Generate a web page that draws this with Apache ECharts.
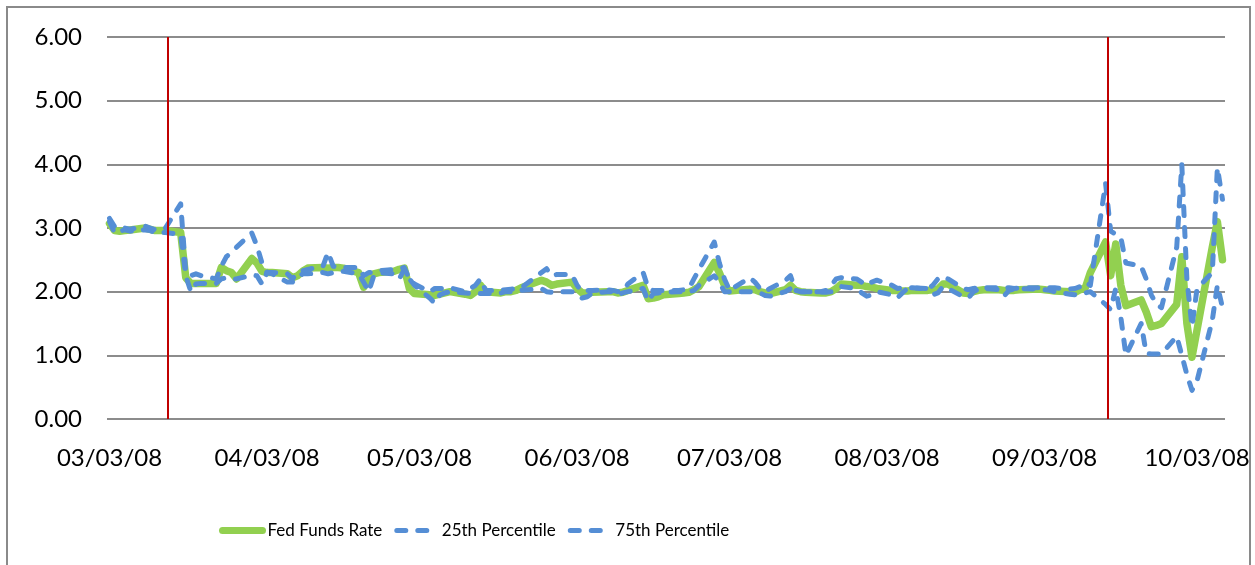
<!DOCTYPE html>
<html>
<head>
<meta charset="utf-8">
<script src="https://cdn.jsdelivr.net/npm/echarts@6/dist/echarts.min.js"></script>
<style>
html, body { margin: 0; padding: 0; background: #fff; }
#chart { width: 1255px; height: 565px; }
</style>
</head>
<body>
<div id="chart"></div>
<script>
// trading days (MM/DD/YY)
var dates = [
  '03/03/08','03/04/08','03/05/08','03/06/08','03/07/08','03/10/08','03/11/08','03/12/08','03/13/08','03/14/08','03/17/08','03/18/08','03/19/08','03/20/08','03/21/08','03/24/08','03/25/08','03/26/08','03/27/08','03/28/08','03/31/08',
  '04/01/08','04/02/08','04/03/08','04/04/08','04/07/08','04/08/08','04/09/08','04/10/08','04/11/08','04/14/08','04/15/08','04/16/08','04/17/08','04/18/08','04/21/08','04/22/08','04/23/08','04/24/08','04/25/08','04/28/08','04/29/08','04/30/08',
  '05/01/08','05/02/08','05/05/08','05/06/08','05/07/08','05/08/08','05/09/08','05/12/08','05/13/08','05/14/08','05/15/08','05/16/08','05/19/08','05/20/08','05/21/08','05/22/08','05/23/08','05/27/08','05/28/08','05/29/08','05/30/08',
  '06/02/08','06/03/08','06/04/08','06/05/08','06/06/08','06/09/08','06/10/08','06/11/08','06/12/08','06/13/08','06/16/08','06/17/08','06/18/08','06/19/08','06/20/08','06/23/08','06/24/08','06/25/08','06/26/08','06/27/08','06/30/08',
  '07/01/08','07/02/08','07/03/08','07/07/08','07/08/08','07/09/08','07/10/08','07/11/08','07/14/08','07/15/08','07/16/08','07/17/08','07/18/08','07/21/08','07/22/08','07/23/08','07/24/08','07/25/08','07/28/08','07/29/08','07/30/08','07/31/08',
  '08/01/08','08/04/08','08/05/08','08/06/08','08/07/08','08/08/08','08/11/08','08/12/08','08/13/08','08/14/08','08/15/08','08/18/08','08/19/08','08/20/08','08/21/08','08/22/08','08/25/08','08/26/08','08/27/08','08/28/08','08/29/08',
  '09/02/08','09/03/08','09/04/08','09/05/08','09/08/08','09/09/08','09/10/08','09/11/08','09/12/08','09/15/08','09/16/08','09/17/08','09/18/08','09/19/08','09/22/08','09/23/08','09/24/08','09/25/08','09/26/08','09/29/08','09/30/08',
  '10/01/08','10/02/08','10/03/08','10/06/08','10/07/08','10/08/08'
];

var fedFunds = [
  3.07, 2.96, 2.95, 2.96, 2.97, 3.00, 2.98, 2.96, 2.96, 2.96, 2.93, 2.22, 2.13, 2.13, 2.13, 2.13, 2.38, 2.33, 2.30, 2.20, 2.52,
  2.45, 2.32, 2.30, 2.30, 2.28, 2.22, 2.25, 2.32, 2.37, 2.38, 2.37, 2.38, 2.38, 2.37, 2.30, 2.07, 2.20, 2.28, 2.30, 2.32, 2.35, 2.37,
  2.05, 1.97, 1.95, 1.94, 1.96, 1.98, 2.00, 1.96, 1.94, 2.00, 2.10, 2.00, 1.98, 2.00, 2.00, 2.02, 2.06, 2.18, 2.15, 2.10, 2.12,
  2.15, 2.05, 1.98, 1.98, 1.99, 2.00, 2.00, 1.98, 1.99, 2.02, 2.10, 1.89, 1.90, 1.92, 1.95, 1.97, 1.98, 1.99, 2.03, 2.08, 2.46,
  2.30, 2.10, 2.01, 2.04, 2.03, 2.00, 1.98, 1.97, 2.03, 2.10, 2.02, 2.00, 1.99, 1.98, 1.98, 2.00, 2.05, 2.12, 2.10, 2.10, 2.08, 2.07,
  2.05, 2.02, 2.02, 2.01, 2.01, 2.02, 2.02, 2.03, 2.04, 2.12, 2.12, 1.98, 1.97, 2.00, 2.02, 2.03, 2.03, 2.02, 2.02, 2.02, 2.03,
  2.04, 2.03, 2.02, 2.01, 2.00, 1.99, 2.03, 2.06, 2.30, 2.78, 2.25, 2.75, 2.10, 1.78, 1.87, 1.68, 1.45, 1.47, 1.50, 1.80, 2.55,
  1.50, 0.97, 1.40, 2.70, 3.10, 2.50
];

var pct25 = [
  3.10, 2.92, 2.95, 2.97, 2.95, 2.97, 2.96, 2.93, 2.93, 2.93, 2.90, 2.25, 2.00, 2.12, 2.13, 2.13, 2.20, 2.22, 2.20, 2.20, 2.26,
  2.25, 2.12, 2.30, 2.28, 2.15, 2.15, 2.22, 2.28, 2.28, 2.30, 2.28, 2.30, 2.30, 2.32, 2.28, 2.15, 2.00, 2.25, 2.30, 2.28, 2.20, 2.35,
  2.20, 2.10, 1.90, 1.82, 1.95, 1.98, 2.00, 1.98, 1.97, 1.98, 1.97, 1.97, 1.98, 2.00, 2.00, 2.01, 2.02, 2.05, 2.00, 1.99, 2.00,
  2.00, 1.95, 1.90, 1.92, 1.98, 2.00, 2.00, 1.95, 1.98, 2.00, 2.05, 1.85, 1.97, 1.98, 1.99, 2.00, 2.00, 2.00, 2.02, 2.10, 2.25,
  2.15, 2.00, 2.00, 2.00, 2.00, 1.98, 1.94, 1.93, 2.00, 2.05, 2.00, 2.00, 2.00, 1.99, 1.99, 2.00, 2.05, 2.08, 2.05, 1.98, 1.93, 1.95,
  2.00, 1.95, 1.90, 1.98, 2.05, 2.06, 2.05, 1.95, 1.98, 2.08, 2.05, 1.92, 1.90, 2.00, 2.04, 2.05, 2.03, 1.93, 2.02, 2.04, 2.05,
  2.04, 2.03, 2.02, 2.00, 1.96, 1.95, 1.96, 1.98, 2.00, 1.80, 1.72, 2.05, 1.60, 1.00, 1.50, 1.03, 1.02, 1.02, 1.02, 1.30, 1.00,
  0.70, 0.45, 0.60, 1.55, 2.10, 1.75
];

var pct75 = [
  3.15, 3.02, 2.98, 3.00, 2.98, 3.03, 3.00, 2.97, 2.97, 3.00, 3.38, 2.30, 2.25, 2.28, 2.25, 2.20, 2.40, 2.55, 2.62, 2.70, 2.92,
  2.72, 2.45, 2.30, 2.30, 2.28, 2.20, 2.30, 2.33, 2.35, 2.40, 2.62, 2.40, 2.38, 2.38, 2.38, 2.25, 2.30, 2.30, 2.33, 2.35, 2.36, 2.38,
  2.20, 2.12, 2.00, 2.05, 2.05, 2.05, 2.06, 2.00, 2.05, 2.10, 2.20, 2.02, 2.02, 2.03, 2.04, 2.05, 2.06, 2.30, 2.36, 2.25, 2.27,
  2.27, 2.10, 2.00, 2.02, 2.02, 2.03, 2.02, 2.00, 2.02, 2.12, 2.30, 2.05, 2.02, 2.02, 2.02, 2.02, 2.03, 2.05, 2.20, 2.35, 2.78,
  2.45, 2.20, 2.02, 2.22, 2.15, 2.05, 2.00, 2.05, 2.18, 2.25, 2.02, 2.00, 2.00, 2.00, 2.02, 2.10, 2.20, 2.22, 2.20, 2.15, 2.10, 2.15,
  2.18, 2.10, 2.05, 2.06, 2.06, 2.06, 2.04, 2.10, 2.20, 2.24, 2.20, 2.05, 2.03, 2.05, 2.06, 2.06, 2.06, 2.06, 2.06, 2.05, 2.06,
  2.06, 2.06, 2.06, 2.06, 2.04, 2.05, 2.08, 2.15, 2.10, 3.70, 2.95, 2.90, 2.85, 2.45, 2.40, 2.20, 1.95, 1.80, 1.75, 2.70, 4.00,
  2.20, 1.45, 2.05, 2.30, 3.95, 3.45
];

// x axis labels and the two event markers (drawn at the end of that day)
var xLabelDates = ['03/03/08','04/03/08','05/03/08','06/03/08','07/03/08','08/03/08','09/03/08','10/03/08'];
var eventDates = ['03/14/08', '09/15/08'];
var axisStart = '03/03/08';
var axisEnd = '10/09/08';

var DAY = 86400000;

function toTime(s, hour) {
    var p = s.split('/');
    return Date.UTC(2000 + Number(p[2]), Number(p[0]) - 1, Number(p[1]), hour || 0);
}

function pad(n) {
    return n < 10 ? '0' + n : '' + n;
}

function fmtDate(t) {
    var d = new Date(t);
    return pad(d.getUTCMonth() + 1) + '/' + pad(d.getUTCDate()) + '/' + pad(d.getUTCFullYear() % 100);
}

function pairs(values) {
    return dates.map(function (d, i) { return [toTime(d, 12), values[i]]; });
}

var axisFont = 'Lato, "Liberation Sans", sans-serif';
var dashStyle = { color: '#558ED5', width: 5, type: [9, 12], cap: 'round', join: 'round' };

var myChart = echarts.init(document.getElementById('chart'), null, { renderer: 'canvas' });

var options = {
    animation: false,
    backgroundColor: '#fff',
    grid: { left: 107, right: 30, top: 37, bottom: 146, containLabel: false },
    xAxis: {
        type: 'value',
        min: toTime(axisStart),
        max: toTime(axisEnd),
        axisLine: { show: false },
        axisTick: { show: false },
        splitLine: { show: false },
        axisLabel: {
            customValues: xLabelDates.map(function (d) { return toTime(d, 12); }),
            formatter: function (v) { return fmtDate(v); },
            fontFamily: axisFont,
            fontSize: 24,
            color: '#000',
            margin: 27,
            showMinLabel: true,
            showMaxLabel: true
        }
    },
    yAxis: {
        type: 'value',
        min: 0,
        max: 6,
        interval: 1,
        axisLine: { show: false },
        axisTick: { show: false },
        axisLabel: {
            formatter: function (v) { return v.toFixed(2); },
            fontFamily: axisFont,
            fontSize: 24,
            color: '#000',
            margin: 25
        },
        splitLine: { lineStyle: { color: '#8c8c8c', width: 2 } }
    },
    legend: {
        left: 214,
        top: 517,
        itemWidth: 40,
        itemHeight: 12,
        itemGap: 12,
        itemStyle: { opacity: 0 },
        textStyle: { fontFamily: axisFont, fontSize: 17, color: '#000' },
        data: [
            { name: 'Fed Funds Rate', lineStyle: { width: 7, cap: 'round' } },
            { name: '25th Percentile', lineStyle: { width: 5, cap: 'round' } },
            { name: '75th Percentile', lineStyle: { width: 5, cap: 'round' } }
        ]
    },
    graphic: [{
        type: 'rect',
        shape: { x: 7, y: 7, width: 1243, height: 620 },
        style: { fill: 'none', stroke: '#8a8a8a', lineWidth: 2 },
        silent: true
    }],
    series: [
        {
            name: 'Fed Funds Rate',
            type: 'line',
            symbol: 'none',
            data: pairs(fedFunds),
            lineStyle: { color: '#92D050', width: 7.5, join: 'round', cap: 'round' },
            itemStyle: { color: '#92D050' }
        },
        {
            name: '25th Percentile',
            type: 'line',
            symbol: 'none',
            data: pairs(pct25),
            lineStyle: dashStyle,
            itemStyle: { color: '#558ED5' }
        },
        {
            name: '75th Percentile',
            type: 'line',
            symbol: 'none',
            data: pairs(pct75),
            lineStyle: dashStyle,
            itemStyle: { color: '#558ED5' },
            markLine: {
                silent: true,
                symbol: 'none',
                label: { show: false },
                lineStyle: { color: '#C00000', width: 2, type: 'solid' },
                data: eventDates.map(function (d) { return { xAxis: toTime(d) + DAY }; })
            }
        }
    ]
};

myChart.setOption(options);
</script>
</body>
</html>
